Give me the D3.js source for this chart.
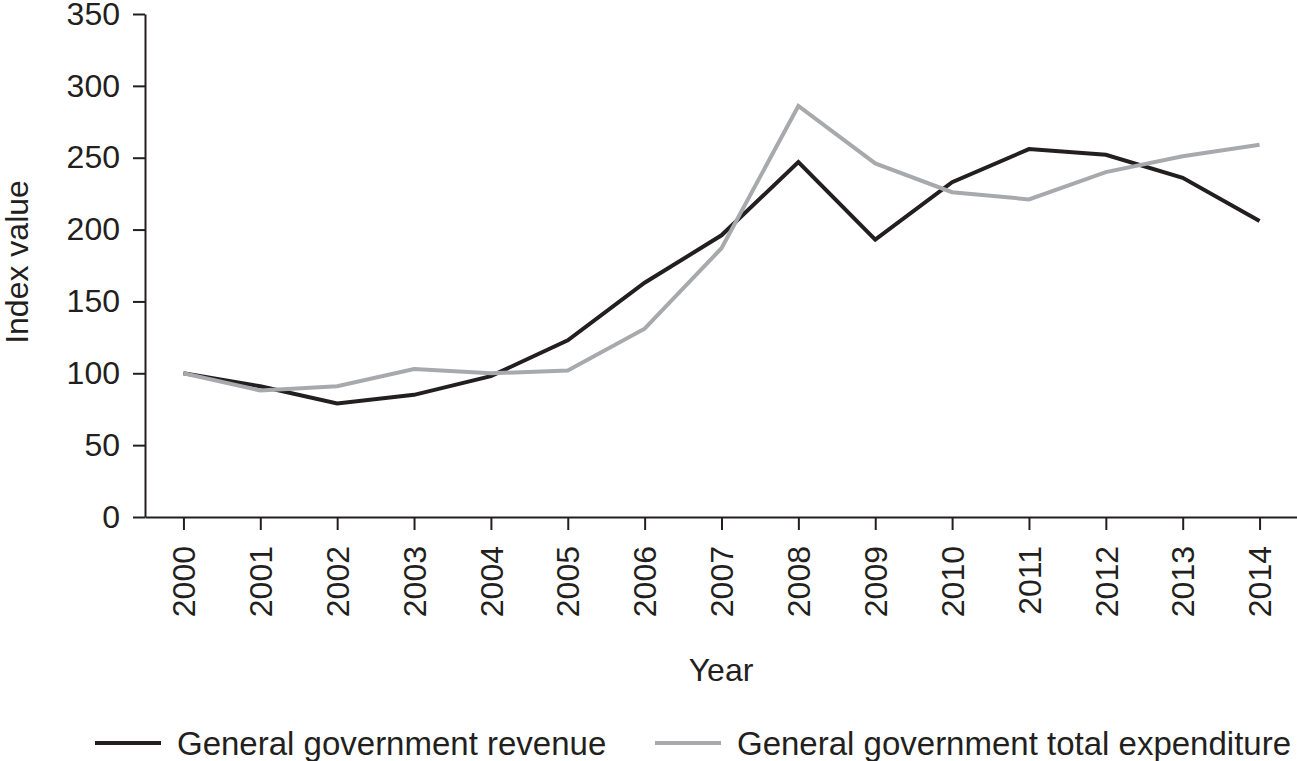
<!DOCTYPE html>
<html>
<head>
<meta charset="utf-8">
<script src="https://cdn.jsdelivr.net/npm/d3@7"></script>
<style>
  html, body { margin: 0; padding: 0; background: #fff; }
  svg text { font-family: "Liberation Sans", Arial, Helvetica, sans-serif; fill: #231f20; }
</style>
</head>
<body>
<svg id="chart" width="1297" height="761"></svg>
<script>
const years = [2000, 2001, 2002, 2003, 2004, 2005, 2006, 2007, 2008, 2009, 2010, 2011, 2012, 2013, 2014];
const revenue = [100, 91, 79, 85, 98, 123, 163, 196, 247, 193, 233, 256, 252, 236, 206];
const expenditure = [100, 88, 91, 103, 100, 102, 131, 187, 286, 246, 226, 221, 240, 251, 259];
const yTicks = [0, 50, 100, 150, 200, 250, 300, 350];
const seriesNames = ["General government revenue", "General government total expenditure"];
const seriesColors = ["#231f20", "#a7a9ac"];

const svg = d3.select("#chart");
const ink = "#231f20";
const fontSize = 32;

const x = d3.scalePoint().domain(years).range([145, 1298]).padding(0.5);
const y = d3.scaleLinear().domain([0, 350]).range([517, 14]);

// Y axis
const yAxis = svg.append("g")
  .attr("transform", "translate(145,0)")
  .call(d3.axisLeft(y).tickValues(yTicks).tickSize(12).tickSizeOuter(0).tickPadding(13));
yAxis.selectAll("text").style("font-size", fontSize + "px").attr("fill", ink);
yAxis.selectAll("line, path").attr("stroke", ink).attr("stroke-width", 2);

// X axis
const xAxis = svg.append("g")
  .attr("transform", "translate(0,517)")
  .call(d3.axisBottom(x).tickSize(13).tickSizeOuter(0).tickFormat(d3.format("d")));
xAxis.selectAll("line, path").attr("stroke", ink).attr("stroke-width", 2);
xAxis.selectAll("text")
  .style("font-size", fontSize + "px")
  .attr("fill", ink)
  .attr("text-anchor", "end")
  .attr("transform", "rotate(-90)")
  .attr("x", -29)
  .attr("y", 0)
  .attr("dy", "0.35em");

// Axis titles
svg.append("text")
  .attr("transform", "translate(28,262) rotate(-90)")
  .attr("text-anchor", "middle")
  .style("font-size", fontSize + "px")
  .text("Index value");

svg.append("text")
  .attr("x", 721)
  .attr("y", 681)
  .attr("text-anchor", "middle")
  .style("font-size", fontSize + "px")
  .text("Year");

// Lines
const line = d3.line().x((d, i) => x(years[i])).y(d => y(d));
const data = [revenue, expenditure];
[0, 1].forEach(k => {
  svg.append("path")
    .datum(data[k])
    .attr("fill", "none")
    .attr("stroke", seriesColors[k])
    .attr("stroke-width", 4)
    .attr("stroke-linejoin", "miter")
    .attr("d", line);
});

// Legend
const legendItems = [
  { x0: 95, tx: 177 },
  { x0: 655, tx: 737 }
];
legendItems.forEach((it, k) => {
  svg.append("line")
    .attr("x1", it.x0).attr("x2", it.x0 + 66)
    .attr("y1", 743).attr("y2", 743)
    .attr("stroke", seriesColors[k])
    .attr("stroke-width", 4);
  svg.append("text")
    .attr("x", it.tx)
    .attr("y", 755)
    .style("font-size", "33px")
    .text(seriesNames[k]);
});
</script>
</body>
</html>
